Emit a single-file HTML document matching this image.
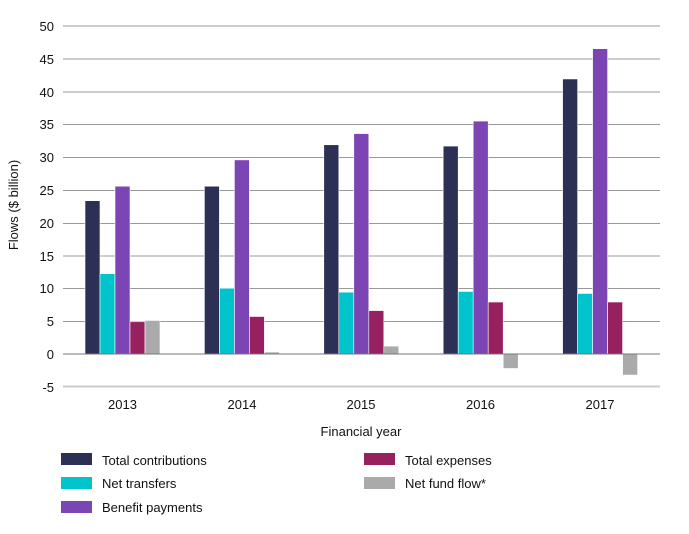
<!DOCTYPE html>
<html><head><style>body{margin:0;background:#fff}svg{display:block}text{font-family:"Liberation Sans",Arial,sans-serif;fill:#111}</style></head>
<body>
<svg width="689" height="534" viewBox="0 0 689 534" xmlns="http://www.w3.org/2000/svg">
<g stroke="#999" stroke-width="1">
<line x1="63" x2="660" y1="26" y2="26"/><line x1="63" x2="660" y1="59" y2="59"/>
<line x1="63" x2="660" y1="92" y2="92"/><line x1="63" x2="660" y1="124.5" y2="124.5"/>
<line x1="63" x2="660" y1="157.5" y2="157.5"/><line x1="63" x2="660" y1="190.5" y2="190.5"/>
<line x1="63" x2="660" y1="223.5" y2="223.5"/><line x1="63" x2="660" y1="256" y2="256"/>
<line x1="63" x2="660" y1="288.5" y2="288.5"/><line x1="63" x2="660" y1="321.5" y2="321.5"/>
</g>
<line x1="63" x2="660" y1="386.5" y2="386.5" stroke="#ccc" stroke-width="2"/>
<g font-size="13" text-anchor="end">
<text x="54" y="31">50</text><text x="54" y="64">45</text><text x="54" y="97">40</text>
<text x="54" y="129">35</text><text x="54" y="162">30</text><text x="54" y="195">25</text>
<text x="54" y="228">20</text><text x="54" y="261">15</text><text x="54" y="293">10</text>
<text x="54" y="326">5</text><text x="54" y="359">0</text><text x="54" y="392">-5</text>
</g>
<text transform="translate(18,205) rotate(-90)" font-size="13" text-anchor="middle">Flows ($ billion)</text>
<g id="bars" stroke="#fff" stroke-width="0.6"></g>
<line x1="63" x2="660" y1="354" y2="354" stroke="#777" stroke-width="1"/>
<g font-size="13" text-anchor="middle">
<text x="122.5" y="409">2013</text><text x="242" y="409">2014</text><text x="361" y="409">2015</text>
<text x="480.5" y="409">2016</text><text x="600" y="409">2017</text>
<text x="361" y="436">Financial year</text>
</g>
<rect x="61" y="453" width="31" height="12" fill="#2d3055"/>
<rect x="61" y="477" width="31" height="12" fill="#00c4cc"/>
<rect x="61" y="501" width="31" height="12" fill="#7b45b3"/>
<rect x="364" y="453" width="31" height="12" fill="#97215e"/>
<rect x="364" y="477" width="31" height="12" fill="#aaaaaa"/>
<g font-size="13">
<text x="102" y="465">Total contributions</text><text x="102" y="488">Net transfers</text>
<text x="102" y="512">Benefit payments</text><text x="405" y="465">Total expenses</text>
<text x="405" y="488">Net fund flow*</text>
</g>
</svg>
<script>
var d=[[23.3,12.2,25.5,4.9,5.1],[25.5,10,29.5,5.7,0.3],[31.8,9.4,33.5,6.6,1.2],[31.6,9.5,35.4,7.9,-2.2],[41.8,9.2,46.4,7.9,-3.2]];
var c=["#2d3055","#00c4cc","#7b45b3","#97215e","#aaaaaa"];
var g=document.getElementById("bars"),s="";
for(var i=0;i<5;i++)for(var j=0;j<5;j++){var v=d[i][j],x=85+i*119.4+j*15,h=Math.abs(v)*6.58,y=v>=0?354-h:354;
s+='<rect x="'+x+'" y="'+y+'" width="15" height="'+h+'" fill="'+c[j]+'"/>';}
g.innerHTML=s;
</script>
</body></html>
